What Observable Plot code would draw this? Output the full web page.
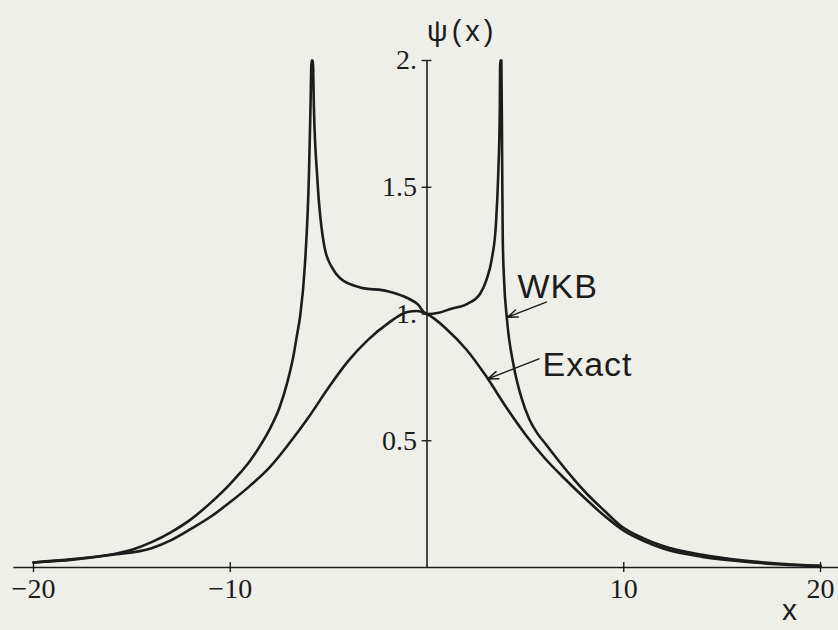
<!DOCTYPE html>
<html>
<head>
<meta charset="utf-8">
<script src="https://cdn.jsdelivr.net/npm/d3@7"></script>
<script src="https://cdn.jsdelivr.net/npm/@observablehq/plot@0.6"></script>
<style>
  html, body { margin: 0; padding: 0; background: #efefea; }
  #chart svg { display: block; background: #efefea; }
</style>
</head>
<body>
<div id="chart"></div>
<script>
// Exact wavefunction psi(x)
const exactX = [-20, -18, -16, -14, -13, -12, -11, -10, -9, -8, -7, -6, -5, -4, -3, -2, -1, -0.5, 0,
                1, 2, 3, 4, 5, 6, 7, 8, 9, 10, 11, 12, 14, 16, 18, 20];
const exactY = [0.02, 0.031, 0.05, 0.076, 0.108, 0.152, 0.2, 0.258, 0.322, 0.395, 0.49, 0.595, 0.71, 0.815, 0.898, 0.962, 1.008, 1.012, 1.0,
                0.94, 0.86, 0.755, 0.635, 0.525, 0.43, 0.35, 0.275, 0.205, 0.145, 0.105, 0.075, 0.042, 0.024, 0.012, 0.006];

// WKB approximation (diverges at the two turning points, clipped at psi = 2)
const wkbX = [-20, -18, -16, -15, -14, -13, -12, -11, -10, -9.5, -9, -8.5, -8, -7.5, -7.1, -6.8, -6.6, -6.45, -6.2, -6.0, -5.92, -5.87,
              -5.8, -5.75, -5.57, -5.2, -4.8, -4.4, -3.4, -2, -1.2, -0.5, 0,
              0.6, 1.2, 2.05, 2.7, 3.0, 3.3, 3.5, 3.62, 3.7, 3.72,
              3.78, 3.82, 3.85, 3.92, 4.05, 4.42, 4.8, 5.2, 5.6, 6.0, 6.62, 7.5, 8.3, 9.0, 9.84, 11, 12, 14, 16, 18, 20];
const wkbY = [0.02, 0.033, 0.052, 0.07, 0.1, 0.14, 0.19, 0.255, 0.33, 0.373, 0.42, 0.478, 0.545, 0.63, 0.73, 0.83, 0.92, 0.99, 1.2, 1.55, 1.82, 2.0,
              2.0, 1.82, 1.53, 1.26, 1.18, 1.14, 1.105, 1.09, 1.07, 1.04, 1.0,
              1.005, 1.02, 1.04, 1.08, 1.13, 1.22, 1.35, 1.55, 1.8, 2.0,
              2.0, 1.6, 1.3, 1.13, 0.99, 0.79, 0.67, 0.585, 0.53, 0.49, 0.428, 0.345, 0.277, 0.225, 0.165, 0.115, 0.085, 0.05, 0.028, 0.015, 0.007];

// Axis ticks
const xTicks = [-20, -10, 10, 20];
const xTickLabels = ["−20", "−10", "10", "20"];
const yTicks = [0.5, 1, 1.5, 2];
const yTickLabels = ["0.5", "1.", "1.5", "2."];

// Curve labels with pointer arrows (data units)
const labelNames = ["WKB", "Exact"];
const labelX = [4.6, 5.87];
const labelY = [1.105, 0.80];
const arrowFromX = [6.06, 5.69];
const arrowFromY = [1.047, 0.823];
const arrowToX = [4.08, 3.09];
const arrowToY = [0.987, 0.744];

const exact = exactX.map((x, i) => ({x, y: exactY[i]}));
const wkb = wkbX.map((x, i) => ({x, y: wkbY[i]}));
const notes = labelNames.map((name, i) => ({
  name, x: labelX[i], y: labelY[i],
  x1: arrowFromX[i], y1: arrowFromY[i], x2: arrowToX[i], y2: arrowToY[i]
}));

const ink = "#1c1c1c";
const serif = "'Liberation Serif', 'DejaVu Serif', serif";
const sans = "'Liberation Sans', 'DejaVu Sans', sans-serif";

const chart = Plot.plot({
  width: 838,
  height: 630,
  marginLeft: 33,
  marginRight: 18,
  marginTop: 60,
  marginBottom: 63,
  x: {domain: [-20, 20], axis: null},
  y: {domain: [0, 2], axis: null},
  style: {background: "#efefea", color: ink},
  marks: [
    // axes through the origin
    Plot.ruleY([0], {x1: -21, x2: 21, stroke: ink, strokeWidth: 1.6}),
    Plot.ruleX([0], {y1: 0, y2: 2, stroke: ink, strokeWidth: 1.6}),
    Plot.ruleX(xTicks, {x: d => d, y1: -0.02, y2: 0.02, stroke: ink, strokeWidth: 1.4}),
    Plot.ruleY(yTicks, {y: d => d, x1: -0.25, x2: 0.25, stroke: ink, strokeWidth: 1.4}),
    Plot.text(xTicks, {x: d => d, y: 0, dy: 22, text: (d, i) => xTickLabels[i],
      fontFamily: serif, fontSize: 28, fill: ink}),
    Plot.text(yTicks, {x: 0, y: d => d, dx: -10, textAnchor: "end", text: (d, i) => yTickLabels[i],
      fontFamily: serif, fontSize: 28, fill: ink}),
    // axis titles
    Plot.text(["ψ(x)"], {x: 0, y: 2, dx: 0, dy: -29, textAnchor: "start", text: d => d,
      fontFamily: sans, fontSize: 29, fill: ink}),
    Plot.text(["x"], {x: 18.42, y: 0, dy: 43, text: d => d,
      fontFamily: sans, fontSize: 30, fill: ink}),
    // curves
    Plot.line(exact, {x: "x", y: "y", curve: "monotone-x", stroke: ink, strokeWidth: 2.6}),
    Plot.line(wkb, {x: "x", y: "y", curve: "monotone-x", stroke: ink, strokeWidth: 2.6}),
    // labels and pointers
    Plot.arrow(notes, {x1: "x1", y1: "y1", x2: "x2", y2: "y2", bend: 0,
      headLength: 11, headAngle: 40, stroke: ink, strokeWidth: 1.5}),
    Plot.text(notes, {x: "x", y: "y", text: "name", textAnchor: "start",
      fontFamily: sans, fontSize: 34, fill: ink})
  ]
});

// open letter spacing on the plotter-style sans labels
d3.select(chart).selectAll("text")
  .filter(function() { return this.textContent === "ψ(x)"; })
  .attr("letter-spacing", "4px");
d3.select(chart).selectAll("text")
  .filter(function() { return this.textContent === "WKB" || this.textContent === "Exact"; })
  .attr("letter-spacing", "1px");

document.getElementById("chart").appendChild(chart);
</script>
</body>
</html>
